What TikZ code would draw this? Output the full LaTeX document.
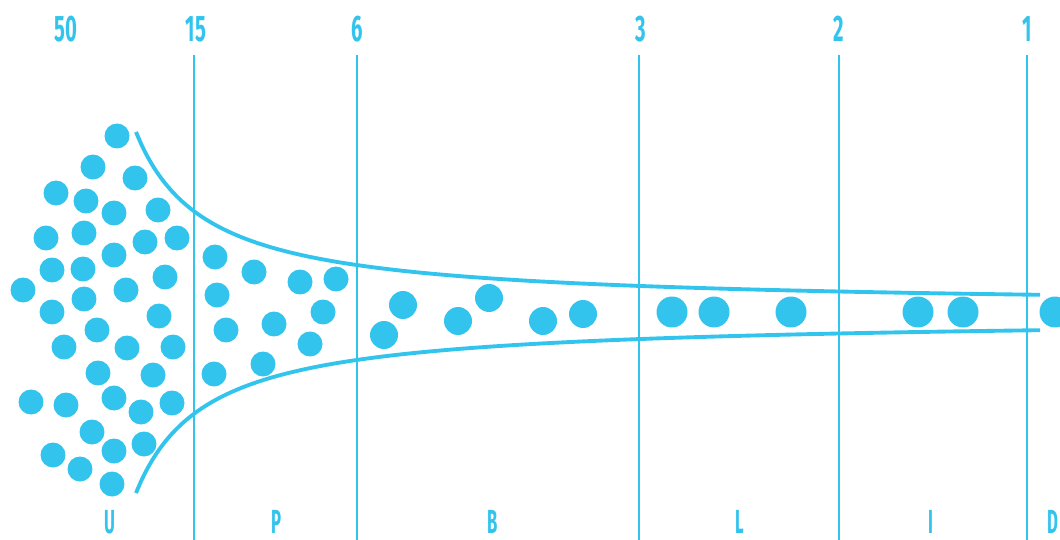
\documentclass[tikz,border=0pt]{standalone}
\usepackage{fontspec}
\setmainfont{Fira Sans}
\usetikzlibrary{positioning}
\definecolor{funnelblue}{HTML}{33C4EE}
\tikzset{
    bead_small/.style={circle, fill=funnelblue, inner sep=0pt, minimum size=0.5cm},
    bead_mid/.style={circle, fill=funnelblue, inner sep=0pt, minimum size=0.56cm},
    bead_big/.style={circle, fill=funnelblue, inner sep=0pt, minimum size=0.62cm},
    count_label/.style={text=funnelblue, font=\bfseries\fontsize{21}{21}\selectfont, xscale=0.55, inner sep=0pt},
    stage_label/.style={text=funnelblue, font=\bfseries\fontsize{19}{19}\selectfont, xscale=0.5, inner sep=0pt},
    divider/.style={draw=funnelblue, line width=1.1pt},
    funnel_edge/.style={draw=funnelblue, line width=2.2pt, line cap=butt}
}

\begin{document}
\begin{tikzpicture}[x=0.02cm, y=-0.02cm]
            \useasboundingbox (0,0) rectangle (1060,540);
            \clip (0,0) rectangle (1060,540);

            % Stage dividers
            \foreach \n/\x in {15/194, 6/357, 3/639, 2/839, 1/1027} {
                \coordinate (top\n) at (\x,55);
                \coordinate (bot\n) at (\x,540);
                \draw [divider] (top\n) -- (bot\n);
            }

            % Counts on top
            \node (c50) [count_label] at (66,29) {50};
            \node (c15) [count_label] at (196,29) {15};
            \node (c6) [count_label] at (357,29) {6};
            \node (c3) [count_label] at (641,29) {3};
            \node (c2) [count_label] at (839,29) {2};
            \node (c1) [count_label] at (1027,29) {1};

            % Stage letters below
            \node (sU) [stage_label] at (110,522) {U};
            \node (sP) [stage_label] at (277,522) {P};
            \node (sB) [stage_label] at (493,522) {B};
            \node (sL) [stage_label] at (740,522) {L};
            \node (sI) [stage_label] at (931,522) {I};
            \node (sD) [stage_label] at (1053,522) {D};

            % Funnel walls
            \draw [funnel_edge] plot [domain=136:1040, samples=180, smooth] (\x, {307.5 - 12373/(\x-65.5)});
            \draw [funnel_edge] plot [domain=136:1040, samples=180, smooth] (\x, {317.5 + 12373/(\x-65.5)});

            % Beads
            \foreach \x/\y [count=\i] in {117/136, 93/167, 135/178, 56/193, 86/201, 114/213, 158/210,
                46/238, 84/233, 145/242, 177/238, 114/255, 52/270, 83/269, 165/277, 23/290, 126/290,
                52/312, 84/299, 159/316, 97/330, 64/347, 127/348, 173/347, 98/373, 153/375,
                31/402, 66/405, 114/398, 141/412, 172/403, 92/432, 53/455, 114/451, 144/444,
                80/469, 112/484}
                \node (u\i) [bead_small] at (\x,\y) {};
            \foreach \x/\y [count=\i] in {215/257, 254/272, 300/282, 336/279, 217/295, 323/312,
                226/330, 274/324, 310/344, 214/374, 263/364}
                \node (p\i) [bead_small] at (\x,\y) {};
            \foreach \x/\y [count=\i] in {403/305, 384/335, 458/321, 489/298, 543/321, 583/314}
                \node (b\i) [bead_mid] at (\x,\y) {};
            \foreach \x/\y [count=\i] in {672/312, 714/312, 791/312, 918/312, 963/312, 1055/312}
                \node (l\i) [bead_big] at (\x,\y) {};
		\end{tikzpicture}
\end{document}
